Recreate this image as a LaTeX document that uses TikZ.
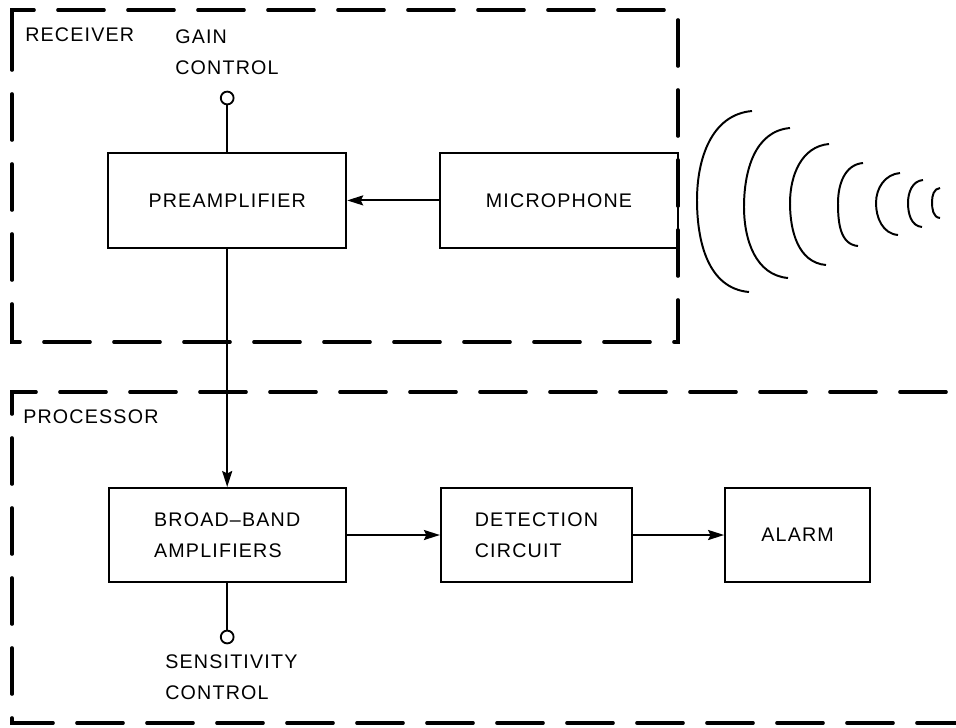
\documentclass[tikz,border=0pt]{standalone}
\usepackage{fontspec}
\setmainfont{Liberation Sans}[LetterSpace=6]
\usetikzlibrary{arrows.meta, positioning}

\begin{document}
\begin{tikzpicture}[
    block/.style={draw, line width=1.4pt, minimum width=5.95cm, minimum height=2.375cm, align=left, inner sep=0pt},
    tag/.style={align=left, inner sep=0pt, anchor=west},
    frame/.style={line width=2.6pt, dash pattern=on 1.15cm off 0.6cm, line cap=round},
    knob/.style={circle, draw, line width=1.3pt, minimum size=0.32cm, inner sep=0pt},
    wire/.style={line width=1.4pt},
    flow/.style={wire, -{Stealth[length=0.4cm, width=0.25cm, inset=0.06cm]}},
    every node/.style={font=\fontsize{14}{22}\selectfont}
]
\useasboundingbox (0,0) rectangle (23.9,-18.175);

\draw[frame] (0.3,-0.85) -- (0.3,-0.25) -- (16.95,-0.25) -- (16.95,-8.55) -- (0.3,-8.55) -- cycle;
\draw[frame] (0.9,-9.8) -- (0.3,-9.8) -- (0.3,-18.075) -- (23.9,-18.075);
\draw[frame] (1.5,-9.8) -- (23.9,-9.8);

\node[tag] (rx) at (0.625,-0.875) {RECEIVER};
\node[tag] (proc) at (0.575,-10.425) {PROCESSOR};

\node[block] (pre) at (5.68,-5.01) {PREAMPLIFIER};
\node[block] (mic) at (13.975,-5.01) {MICROPHONE};
\node[block, minimum width=5.925cm, minimum height=2.35cm] (bb) at (5.68,-13.375) {BROAD–BAND\\AMPLIFIERS};
\node[block, minimum width=4.775cm, minimum height=2.35cm] (det) at (13.41,-13.375) {DETECTION\\CIRCUIT};
\node[block, minimum width=3.625cm, minimum height=2.35cm] (alarm) at (19.94,-13.375) {ALARM};

\node[knob] (gain) at (5.68,-2.45) {};
\node[tag] (gaintxt) at (4.375,-1.3) {GAIN\\CONTROL};
\node[knob] (sens) at (5.68,-15.925) {};
\node[tag] (senstxt) at (4.125,-16.94) {SENSITIVITY\\CONTROL};

\draw[wire] (gain) -- (pre);
\draw[flow] (mic) -- (pre);
\draw[flow] (pre) -- (bb);
\draw[flow] (bb) -- (det);
\draw[flow] (det) -- (alarm);
\draw[wire] (bb) -- (sens);

\foreach \tx/\ty/\lx/\ly/\bx/\by in {18.8/-2.775/17.425/-5.0/18.725/-7.3, 19.75/-3.2/18.6/-5.175/19.7/-6.95, 20.725/-3.6/19.75/-5.075/20.65/-6.625, 21.575/-4.075/20.95/-5.075/21.45/-6.15, 22.5/-4.325/21.9/-5.075/22.45/-5.875, 23.075/-4.5/22.7/-5.075/23.05/-5.675, 23.5/-4.7/23.3/-5.05/23.5/-5.45}
    \draw[wire] (\tx,\ty) to[out=185, in=90] (\lx,\ly) to[out=-90, in=175] (\bx,\by);
\end{tikzpicture}
\end{document}
